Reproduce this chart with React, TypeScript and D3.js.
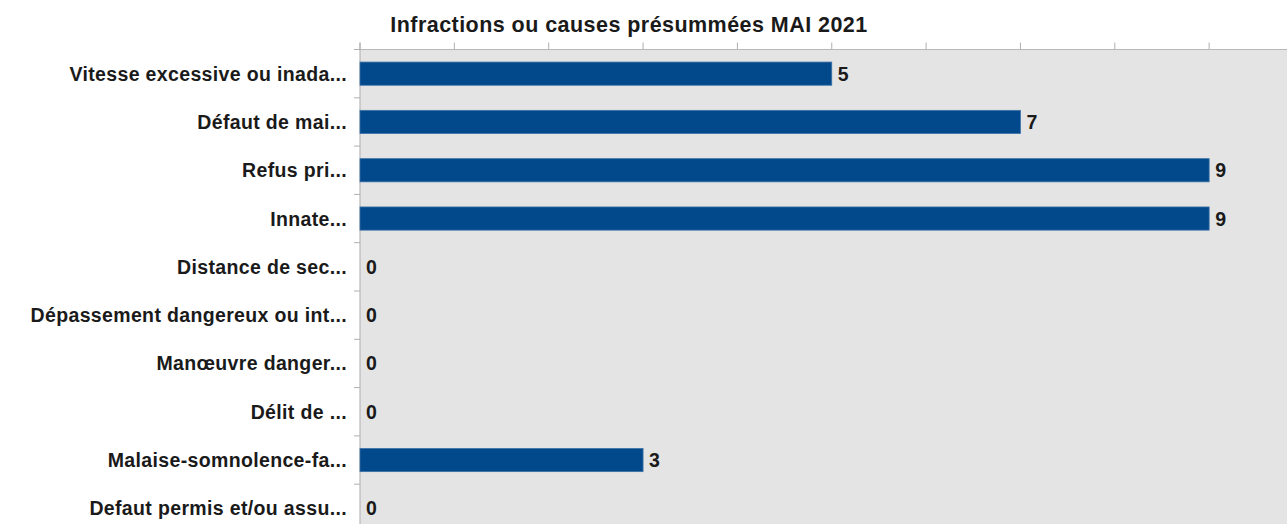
import React from "react";
import * as d3 from "d3";

const title = "Infractions ou causes présummées MAI 2021";
const categories = [
  "Vitesse excessive ou inada...",
  "Défaut de mai...",
  "Refus pri...",
  "Innate...",
  "Distance de sec...",
  "Dépassement dangereux ou int...",
  "Manœuvre danger...",
  "Délit de ...",
  "Malaise-somnolence-fa...",
  "Defaut permis et/ou assu...",
];
const values = [5, 7, 9, 9, 0, 0, 0, 0, 3, 0];
const xTicks = [0, 1, 2, 3, 4, 5, 6, 7, 8, 9, 10];

const W = 1287;
const H = 524;
const left = 360;
const top = 49.5;
const unit = 94.35;
const plotRight = left + unit * 10;
const bandStep = 48.3;
const plotBottom = top + bandStep * categories.length;

export default function App() {
  const x = d3.scaleLinear().domain([0, 10]).range([left, plotRight]);
  const y = d3
    .scaleBand<string>()
    .domain(categories)
    .range([top, plotBottom])
    .paddingInner(0.52)
    .paddingOuter(0.26);
  const font = "'Liberation Sans', Arial, sans-serif";
  return (
    <svg
      width={W}
      height={H}
      style={{ position: "absolute", left: 0, top: 0, background: "#fff" }}
    >
      <rect x={left} y={top} width={plotRight - left} height={plotBottom - top} fill="#e4e4e4" />
      <line x1={left - 6} x2={plotRight} y1={top} y2={top} stroke="#b8b8b8" strokeWidth={1.2} />
      <line x1={left} x2={left} y1={top - 7} y2={plotBottom} stroke="#b8b8b8" strokeWidth={1.2} />
      {xTicks.map((t) => (
        <line key={t} x1={x(t)} x2={x(t)} y1={top - 7} y2={top} stroke="#b0b0b0" strokeWidth={1} />
      ))}
      {categories.map((c, i) => (
        <line
          key={"bt" + i}
          x1={left - 6}
          x2={left}
          y1={top + i * bandStep}
          y2={top + i * bandStep}
          stroke="#b0b0b0"
          strokeWidth={1}
        />
      ))}
      {categories.map((c, i) => {
        const yy = y(c)!;
        const bw = y.bandwidth();
        return (
          <g key={c}>
            {values[i] > 0 && (
              <rect
                x={x(0)}
                y={yy}
                width={x(values[i]) - x(0)}
                height={bw}
                fill="#02498c"
                stroke="#3d72a8"
                strokeWidth={0.8}
              />
            )}
            <text
              x={left - 13}
              y={yy + bw / 2}
              dy="0.36em"
              textAnchor="end"
              fontFamily={font}
              fontWeight="bold"
              fontSize={19.5}
              letterSpacing={0.35}
              fill="#1a1a1a"
            >
              {c}
            </text>
            <text
              x={x(values[i]) + 6}
              y={yy + bw / 2}
              dy="0.36em"
              fontFamily={font}
              fontWeight="bold"
              fontSize={19.5}
              fill="#1a1a1a"
            >
              {values[i]}
            </text>
          </g>
        );
      })}
      <text
        x={629}
        y={32}
        textAnchor="middle"
        fontFamily={font}
        fontWeight="bold"
        fontSize={21.5}
        letterSpacing={0.45}
        fill="#1a1a1a"
      >
        {title}
      </text>
    </svg>
  );
}
